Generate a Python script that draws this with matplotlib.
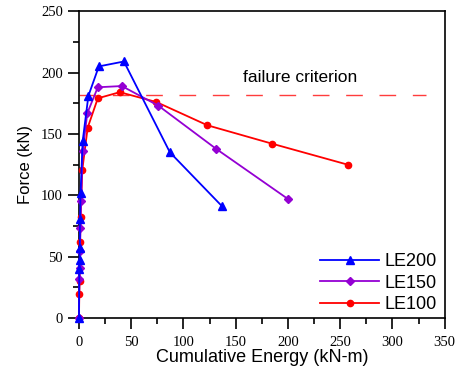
import matplotlib
matplotlib.use("Agg")
import matplotlib.pyplot as plt
from matplotlib.ticker import MultipleLocator

# Data
le200_x = [0, 0.3, 0.5, 0.7, 1.0, 1.5, 3.5, 9, 19, 43, 87, 137]
le200_y = [0, 40, 47, 57, 81, 102, 144, 181, 205, 209, 135, 91]
le150_x = [0, 0.3, 0.6, 1.0, 1.4, 2.0, 3.5, 8, 18, 41, 76, 131, 200]
le150_y = [0, 32, 41, 55, 73, 95, 136, 167, 188, 189, 173, 138, 97]
le100_x = [0, 0.3, 0.6, 1.0, 1.5, 3.2, 8.3, 18, 39, 74, 123, 185, 257]
le100_y = [0, 20, 30, 62, 82, 121, 155, 179, 184, 176, 157, 142, 125]
criterion_y = 182
criterion_label = "failure criterion"
x_ticks = [0, 50, 100, 150, 200, 250, 300, 350]
y_ticks = [0, 50, 100, 150, 200, 250]

fig = plt.figure(figsize=(4.6, 3.72), dpi=100)
ax = fig.add_axes([0.1717, 0.145, 0.795, 0.825])

ax.axhline(criterion_y, xmin=0, xmax=0.95, color="#ff3c3c", lw=1.0, dashes=(12, 12))
ax.plot(le100_x, le100_y, color="#ff0000", marker="o", ms=4.5, lw=1.3, label="LE100", zorder=3, clip_on=False)
ax.plot(le150_x, le150_y, color="#9400d3", marker="D", ms=4, lw=1.3, label="LE150", zorder=4, clip_on=False)
ax.plot(le200_x, le200_y, color="#0000ff", marker="^", ms=5.5, lw=1.3, label="LE200", zorder=5, clip_on=False)

ax.text(212, 196, criterion_label, ha="center", va="center",
        fontsize=12.5, family="Liberation Sans")

ax.set_xlim(0, 350)
ax.set_ylim(0, 250)
ax.set_xticks(x_ticks)
ax.set_yticks(y_ticks)
ax.xaxis.set_minor_locator(MultipleLocator(25))
ax.yaxis.set_minor_locator(MultipleLocator(25))
ax.tick_params(which="major", direction="out", length=8, width=1.2, labelsize=10.5)
ax.tick_params(which="minor", direction="out", length=4.5, width=1.2)
ax.tick_params(axis="x", which="major", pad=5)
for lab in ax.get_xticklabels() + ax.get_yticklabels():
    lab.set_family("Liberation Serif")
for s in ax.spines.values():
    s.set_linewidth(1.2)

ax.set_xlabel("Cumulative Energy (kN-m)", fontsize=13, family="Liberation Sans", labelpad=0)
ax.set_ylabel("Force (kN)", fontsize=12, family="Liberation Sans", labelpad=6)

h, l = ax.get_legend_handles_labels()
ax.legend(h[::-1], l[::-1], loc="center left", frameon=False,
          prop={"family": "Liberation Sans", "size": 13},
          handlelength=3.27, handletextpad=0.3, labelspacing=0.25,
          borderpad=0, borderaxespad=0,
          bbox_to_anchor=(320 / 460, (372 - 283) / 372), bbox_transform=fig.transFigure)

fig.savefig("out.png", dpi=100)
